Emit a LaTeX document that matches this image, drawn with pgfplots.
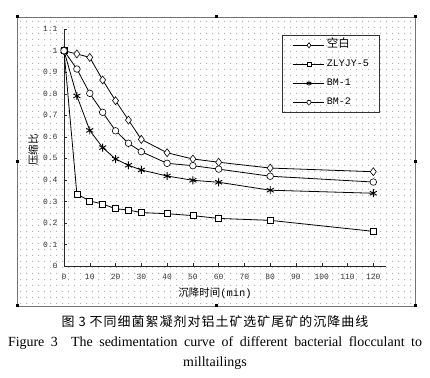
\documentclass[border=0pt]{standalone}
\usepackage{pgfplots}
\pgfplotsset{compat=1.18}
\usepackage{fontspec}
\setmainfont{Liberation Serif}
\setmonofont{Liberation Mono}
\newfontfamily\cjk{Noto Sans CJK SC}
\newfontfamily\cjkcap[LetterSpace=8]{Noto Sans CJK SC}
\usetikzlibrary{patterns.meta}
\tikzdeclarepattern{
  name=bgdots, type=uncolored,
  bounding box={(0bp,0bp) and (6bp,6bp)},
  tile size={(6bp,6bp)},
  code={\pgfpathrectangle{\pgfpoint{2.5bp}{2.5bp}}{\pgfpoint{1bp}{1bp}}\pgfusepath{fill}}
}
\begin{document}
\begin{tikzpicture}
\path (0bp,0bp) rectangle (430bp,378bp);
\fill[pattern=bgdots, pattern color=black!30] (17bp,72bp) rectangle (415bp,361bp);
\draw[black!55, line width=0.8bp] (17bp,72bp) rectangle (415bp,361bp);
\foreach \px/\py in {17/72,216/72,415/72,17/216.5,415/216.5,17/361,216/361,415/361}
  \fill[black] (\px bp-1.5bp,\py bp-1.5bp) rectangle ++(3bp,3bp);
\begin{axis}[
  at={(64bp,112bp)}, anchor=south west,
  scale only axis, width=322.2bp, height=236.8bp,
  xmin=0, xmax=125, ymin=0, ymax=1.1,
  axis lines=left, axis line style={black!85, line width=0.6bp, -},
  xtick={0,10,...,120},
  ytick={0,0.1,0.2,0.3,0.4,0.5,0.6,0.7,0.8,0.9,1,1.1},
  tick align=inside, major tick length=2.5bp,
  tick style={black!85, line width=0.5bp},
  /pgf/number format/assume math mode=true,
  ticklabel style={font=\ttfamily\fontsize{8}{9}\selectfont, text=black!80},
  xticklabel style={yshift=-5bp},
  yticklabel style={xshift=-3bp},
  xlabel={\cjk\fontsize{10.5}{12}\selectfont 沉降时间\ttfamily(min)},
  ylabel={\cjk\fontsize{10.5}{12}\selectfont 压缩比},
  every axis x label/.style={at={(axis description cs:0.469,-0.114)}, anchor=center},
  every axis y label/.style={at={(axis description cs:-0.096,0.49)}, rotate=90, anchor=center},
  legend style={at={(axis description cs:0.6775,0.9755)}, anchor=north west,
    draw=black!80, fill=none, line width=0.6bp,
    font=\ttfamily\fontsize{10}{11}\selectfont,
    nodes={inner sep=0pt, text height=8bp, text depth=3bp, anchor=west},
    row sep=8bp, column sep=2bp, inner xsep=10.5bp, inner ysep=4.5bp},
  legend cell align=left,
  legend image code/.code={
    \draw[mark repeat=2, mark phase=2, #1, every mark/.append style={scale=0.65}]
      plot coordinates {(0bp,0bp) (15.5bp,0bp) (31bp,0bp)};},
  every axis plot/.append style={black, line width=0.8bp},
]
\addplot[mark=diamond*, mark size=4bp, mark options={fill=white, line width=0.6bp}] coordinates {
(0,1.0) (5,0.985) (10,0.969) (15,0.864) (20,0.768) (25,0.678) (30,0.588) (40,0.526) (50,0.497) (60,0.482) (80,0.455) (120,0.438)};
\addlegendentry{\cjk\fontsize{11.5}{11}\selectfont 空白}
\addplot[mark=square*, mark size=3bp, mark options={fill=white, line width=0.6bp}] coordinates {
(0,1.0) (5,0.334) (10,0.302) (15,0.288) (20,0.266) (25,0.260) (30,0.248) (40,0.243) (50,0.234) (60,0.221) (80,0.212) (120,0.161)};
\addlegendentry{ZLYJY-5}
\addplot[mark=asterisk, mark size=4bp, mark options={line width=0.9bp}] coordinates {
(0,1.0) (5,0.79) (10,0.63) (15,0.55) (20,0.497) (25,0.468) (30,0.446) (40,0.418) (50,0.398) (60,0.389) (80,0.352) (120,0.338)};
\addlegendentry{BM-1}
\addplot[mark=*, mark size=3.3bp, mark options={fill=white, line width=0.6bp}] coordinates {
(0,1.0) (5,0.915) (10,0.802) (15,0.714) (20,0.628) (25,0.570) (30,0.531) (40,0.477) (50,0.466) (60,0.450) (80,0.417) (120,0.390)};
\addlegendentry{BM-2}
\end{axis}
\node[anchor=center, font=\cjkcap\fontsize{13}{14}\selectfont] at (215bp,56bp) {图 3 不同细菌絮凝剂对铝土矿选矿尾矿的沉降曲线};
\node[anchor=center, font=\fontsize{14}{16}\selectfont, inner sep=0pt] at (215bp,35bp) {\makebox[414bp][s]{Figure 3\ \ The sedimentation curve of different bacterial flocculant to}};
\node[anchor=center, font=\fontsize{14}{16}\selectfont, inner sep=0pt] at (215bp,15bp) {milltailings};
\end{tikzpicture}
\end{document}
